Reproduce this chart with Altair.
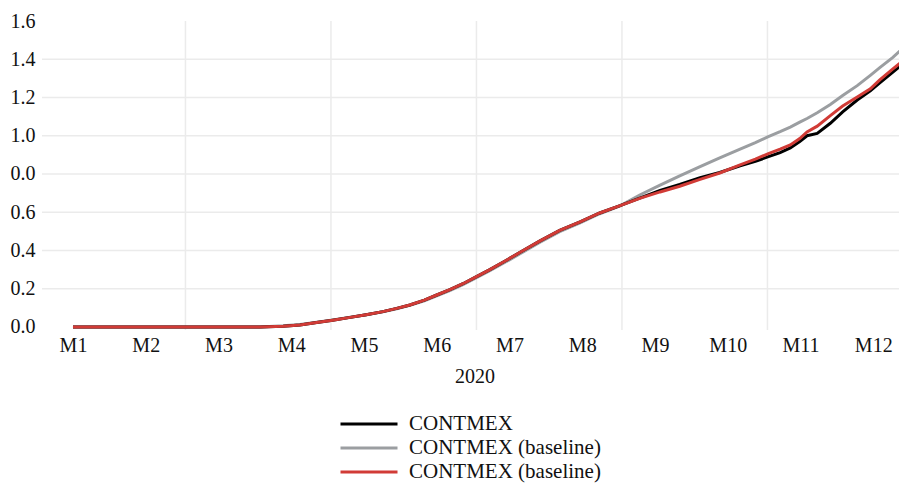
import altair as alt
import pandas as pd

# ---- data (x in month units, M1 = 1.0) ----
months = [1.00, 2.06, 3.02, 3.57, 3.89, 4.12, 4.35, 4.57, 4.81, 5.03, 5.26, 5.45,
          5.63, 5.83, 6.00, 6.18, 6.36, 6.54, 6.73, 6.94, 7.14, 7.42, 7.69, 7.97,
          8.24, 8.52, 8.79, 9.07, 9.34, 9.62, 9.89, 10.17, 10.38, 10.55, 10.72,
          10.86, 10.99, 11.09, 11.23, 11.41, 11.58, 11.78, 11.96, 12.09, 12.27, 12.46]

contmex = [0, 0, 0, 0, 0.003, 0.010, 0.023, 0.035, 0.050, 0.064, 0.080, 0.097,
           0.115, 0.140, 0.167, 0.195, 0.226, 0.262, 0.300, 0.345, 0.389, 0.450, 0.505, 0.550,
           0.596, 0.634, 0.674, 0.714, 0.745, 0.780, 0.808, 0.843, 0.866, 0.889, 0.912,
           0.936, 0.970, 1.000, 1.012, 1.065, 1.125, 1.187, 1.235, 1.276, 1.333, 1.391]

baseline_grey = [0, 0, 0, 0, 0.006, 0.013, 0.025, 0.037, 0.051, 0.064, 0.079, 0.095,
                 0.113, 0.137, 0.163, 0.190, 0.221, 0.256, 0.294, 0.338, 0.382, 0.443, 0.498, 0.544,
                 0.592, 0.633, 0.690, 0.742, 0.790, 0.838, 0.884, 0.930, 0.964, 0.994, 1.021,
                 1.045, 1.071, 1.090, 1.120, 1.163, 1.210, 1.262, 1.316, 1.356, 1.410, 1.475]

baseline_red = [0, 0, 0, 0, 0.003, 0.010, 0.023, 0.035, 0.050, 0.064, 0.080, 0.097,
                0.115, 0.140, 0.167, 0.195, 0.226, 0.262, 0.300, 0.345, 0.389, 0.450, 0.505, 0.550,
                0.596, 0.634, 0.672, 0.706, 0.736, 0.772, 0.805, 0.848, 0.878, 0.905, 0.930,
                0.952, 0.985, 1.020, 1.050, 1.105, 1.155, 1.203, 1.245, 1.292, 1.350, 1.407]

series_keys = ["a", "b", "c"]
series_labels = ["CONTMEX", "CONTMEX (baseline)", "CONTMEX (baseline)"]
series_colors = ["#000000", "#9b9ea1", "#d13b36"]

month_ticks = [1, 2, 3, 4, 5, 6, 7, 8, 9, 10, 11, 12]
month_labels = ["M1", "M2", "M3", "M4", "M5", "M6", "M7", "M8", "M9", "M10", "M11", "M12"]
x_grid = [2.546, 4.546, 6.546, 8.546, 10.546]

y_ticks = [0.0, 0.2, 0.4, 0.6, 0.8, 1.0, 1.2, 1.4, 1.6]
y_tick_labels = ["0.0", "0.2", "0.4", "0.6", "0.0", "1.0", "1.2", "1.4", "1.6"]
y_grid = [0.2, 0.4, 0.6, 0.8, 1.0, 1.2, 1.4]

# ---- build tables ----
rows = []
for key, ys in (("b", baseline_grey), ("a", contmex), ("c", baseline_red)):
    for xv, yv in zip(months, ys):
        rows.append({"month": xv, "value": yv, "series": key})
df = pd.DataFrame(rows)


def expr_map(vals, labels):
    parts = [f"abs(datum.value - {v}) < 0.001 ? '{l}' : " for v, l in zip(vals, labels)]
    return "".join(parts) + "''"


FONT = "Liberation Serif, Times New Roman, serif"
TXT = "#111111"
XDOM = [0.574, 12.464]
YDOM = [-0.016, 1.6]

x_scale = alt.Scale(domain=XDOM, nice=False, zero=False)
y_scale = alt.Scale(domain=YDOM, nice=False, zero=False)

x_axis = alt.Axis(values=month_ticks, labelExpr=expr_map(month_ticks, month_labels),
                  grid=False, ticks=False, domain=False, labelFont=FONT, labelFontSize=20,
                  labelColor=TXT, labelPadding=5, title="2020", titleFont=FONT,
                  titleFontSize=20, titleFontWeight="normal", titleColor=TXT, titlePadding=11)
y_axis = alt.Axis(values=y_ticks, labelExpr=expr_map(y_ticks, y_tick_labels),
                  grid=False, ticks=False, domain=False, labelFont=FONT, labelFontSize=20,
                  labelColor=TXT, labelPadding=7, title=None)

X = alt.X("month:Q", scale=x_scale, axis=x_axis)
Y = alt.Y("value:Q", scale=y_scale, axis=y_axis)

vgrid = alt.Chart(pd.DataFrame({"month": x_grid})).mark_rule(
    color="#ebebeb", strokeWidth=1.5).encode(x=X)
hgrid = alt.Chart(pd.DataFrame({"value": y_grid})).mark_rule(
    color="#ebebeb", strokeWidth=1.5).encode(y=Y)

legend_expr = ("datum.label == 'a' ? '" + series_labels[0] + "' : datum.label == 'b' ? '"
               + series_labels[1] + "' : '" + series_labels[2] + "'")

lines = alt.Chart(df).mark_line(strokeWidth=3, interpolate="linear").encode(
    x=X, y=Y,
    color=alt.Color("series:N",
                    scale=alt.Scale(domain=series_keys, range=series_colors),
                    legend=alt.Legend(orient="none", legendX=316, legendY=392, title=None,
                                      symbolType="M-3,0L3,0", symbolSize=361,
                                      symbolStrokeWidth=3, labelFont=FONT,
                                      labelFontSize=21, labelColor=TXT, labelOffset=29,
                                      labelLimit=400, rowPadding=3,
                                      labelExpr=legend_expr)),
)

chart = alt.layer(vgrid, hgrid, lines).properties(
    width=865, height=309,
    autosize=alt.AutoSizeParams(type="none"),
    padding={"left": 34, "top": 13, "right": -8, "bottom": 155},
).configure_view(stroke=None)

chart.save("out.html", embed_options={"renderer": "svg", "actions": False})
